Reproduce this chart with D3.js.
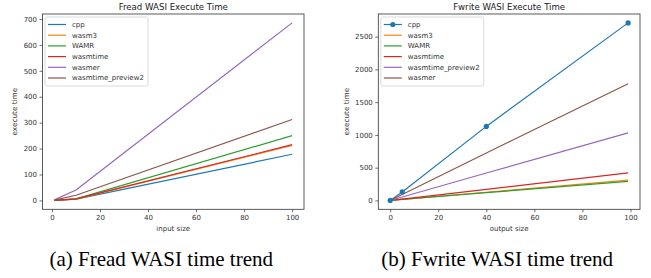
<!DOCTYPE html>
<html lang="en">
<head>
    <meta charset="UTF-8">
    <title>WASI time trend</title>
    <script src="https://d3js.org/d3.v7.min.js"></script>
    <style>
        body {background:#fff; margin:0}
        svg {display:block}
        .tick text {font-family:"DejaVu Sans", sans-serif; font-size:7px; fill:#333}
        .caption {font-family:"Liberation Serif", "Times New Roman", serif; font-size:21px; fill:#000}
    </style>
</head>
<body>
<svg id="chart" width="651" height="278"></svg>

<script>
// panel (a) - fread
var freadSizes = [1, 10, 100];
var freadCpp = [0, 5, 178];
var freadWasm3 = [0, 5, 212];
var freadWamr = [0, 6, 250];
var freadWasmtime = [0, 6, 215];
var freadWasmer = [2, 40, 685];
var freadPreview2 = [1, 20, 312];

// panel (b) - fwrite
var fwriteSizes = [0, 5, 40, 99];
var fwriteCpp = [0, 130, 1130, 2710];
var fwriteWasm3 = [0, 16, 125, 310];
var fwriteWamr = [0, 15, 118, 290];
var fwriteWasmtime = [0, 21, 170, 420];
var fwritePreview2 = [0, 52, 418, 1030];
var fwriteWasmer = [0, 90, 725, 1780];

var xTicks = [0, 20, 40, 60, 80, 100];
var freadYTicks = [0, 100, 200, 300, 400, 500, 600, 700];
var fwriteYTicks = [0, 500, 1000, 1500, 2000, 2500];

var tab = ["#1f77b4", "#ff7f0e", "#2ca02c", "#d62728", "#9467bd", "#8c564b"];

var svg = d3.select("#chart");

drawPanel({
    left: 42.5, right: 304, top: 14, bottom: 209.3,
    title: "Fread WASI Execute Time",
    xLabel: "input size",
    yLabelX: 14.5,
    caption: "(a) Fread WASI time trend",
    xs: freadSizes,
    yTicks: freadYTicks,
    series: [
        {name: "cpp", vals: freadCpp},
        {name: "wasm3", vals: freadWasm3},
        {name: "WAMR", vals: freadWamr},
        {name: "wasmtime", vals: freadWasmtime},
        {name: "wasmer", vals: freadWasmer},
        {name: "wasmtime_preview2", vals: freadPreview2}
    ]
});

drawPanel({
    left: 378.3, right: 640, top: 14, bottom: 209.3,
    title: "Fwrite WASI Execute Time",
    xLabel: "output size",
    yLabelX: 346,
    caption: "(b) Fwrite WASI time trend",
    xs: fwriteSizes,
    yTicks: fwriteYTicks,
    markFirst: true,
    series: [
        {name: "cpp", vals: fwriteCpp},
        {name: "wasm3", vals: fwriteWasm3},
        {name: "WAMR", vals: fwriteWamr},
        {name: "wasmtime", vals: fwriteWasmtime},
        {name: "wasmtime_preview2", vals: fwritePreview2},
        {name: "wasmer", vals: fwriteWasmer}
    ]
});

function pad(ext){
    // matplotlib style 5% margins
    var m = (ext[1] - ext[0]) * 0.05;
    return [ext[0] - m, ext[1] + m];
}

function drawPanel(p){
    var allY = [];
    p.series.forEach(function(s){ allY = allY.concat(s.vals); });
    var x = d3.scaleLinear().domain(pad(d3.extent(p.xs))).range([p.left, p.right]);
    var y = d3.scaleLinear().domain(pad(d3.extent(allY))).range([p.bottom, p.top]);

    var g = svg.append("g");

    // axes
    g.append("g")
        .attr("transform", "translate(0," + p.bottom + ")")
        .call(d3.axisBottom(x).tickValues(xTicks).tickSize(3).tickPadding(2.5).tickFormat(d3.format("d")))
        .call(function(a){ a.select(".domain").remove(); a.selectAll("line").attr("stroke", "#333").attr("stroke-width", 0.7); });
    g.append("g")
        .attr("transform", "translate(" + p.left + ",0)")
        .call(d3.axisLeft(y).tickValues(p.yTicks).tickSize(3).tickPadding(2.5).tickFormat(d3.format("d")))
        .call(function(a){ a.select(".domain").remove(); a.selectAll("line").attr("stroke", "#333").attr("stroke-width", 0.7); });

    // lines
    var line = d3.line()
        .x(function(d, i){ return x(p.xs[i]); })
        .y(function(d){ return y(d); });
    p.series.forEach(function(s, i){
        g.append("path")
            .attr("d", line(s.vals))
            .attr("fill", "none")
            .attr("stroke", tab[i])
            .attr("stroke-width", 1.2)
            .attr("stroke-linejoin", "round");
    });
    if (p.markFirst){
        g.selectAll("circle.pt")
            .data(p.series[0].vals)
            .enter()
            .append("circle")
            .attr("class", "pt")
            .attr("cx", function(d, i){ return x(p.xs[i]); })
            .attr("cy", function(d){ return y(d); })
            .attr("r", 2.6)
            .attr("fill", tab[0]);
    }

    // frame
    g.append("rect")
        .attr("x", p.left).attr("y", p.top)
        .attr("width", p.right - p.left).attr("height", p.bottom - p.top)
        .attr("fill", "none").attr("stroke", "#333").attr("stroke-width", 0.8);

    // titles
    g.append("text")
        .attr("x", (p.left + p.right) / 2).attr("y", 9.5)
        .attr("text-anchor", "middle")
        .style("font-family", "DejaVu Sans").style("font-size", "8.6px").style("fill", "#222")
        .text(p.title);
    g.append("text")
        .attr("x", (p.left + p.right) / 2).attr("y", 231)
        .attr("text-anchor", "middle")
        .style("font-family", "DejaVu Sans").style("font-size", "7px").style("fill", "#333")
        .text(p.xLabel);
    g.append("text")
        .attr("transform", "translate(" + p.yLabelX + "," + ((p.top + p.bottom) / 2) + ") rotate(-90)")
        .attr("text-anchor", "middle")
        .attr("dy", "0.35em")
        .style("font-family", "DejaVu Sans").style("font-size", "7.3px").style("fill", "#333")
        .text("execute time");

    // legend
    var lx = p.left + 2.5, ly = p.top + 3;
    g.append("rect")
        .attr("x", lx).attr("y", ly)
        .attr("width", 103).attr("height", 69)
        .attr("rx", 2)
        .attr("fill", "#fff").attr("fill-opacity", 0.8)
        .attr("stroke", "#ccc").attr("stroke-width", 0.7);
    var items = g.selectAll("g.leg")
        .data(p.series)
        .enter()
        .append("g")
        .attr("class", "leg")
        .attr("transform", function(d, i){ return "translate(" + lx + "," + (ly + 7.5 + i * 10.7) + ")"; });
    items.append("line")
        .attr("x1", 3).attr("x2", 21)
        .attr("stroke", function(d, i){ return tab[i]; })
        .attr("stroke-width", 1.2);
    if (p.markFirst){
        items.filter(function(d, i){ return i === 0; })
            .append("circle")
            .attr("cx", 12).attr("r", 2.6).attr("fill", tab[0]);
    }
    items.append("text")
        .attr("x", 27)
        .attr("dy", "0.35em")
        .style("font-family", "DejaVu Sans").style("font-size", "7px").style("fill", "#333")
        .text(function(d){ return d.name; });

    // caption below the panel
    svg.append("text")
        .attr("class", "caption")
        .attr("x", (p.left + p.right) / 2 - 12)
        .attr("y", 266)
        .attr("text-anchor", "middle")
        .text(p.caption);
}
</script>
</body>
</html>
